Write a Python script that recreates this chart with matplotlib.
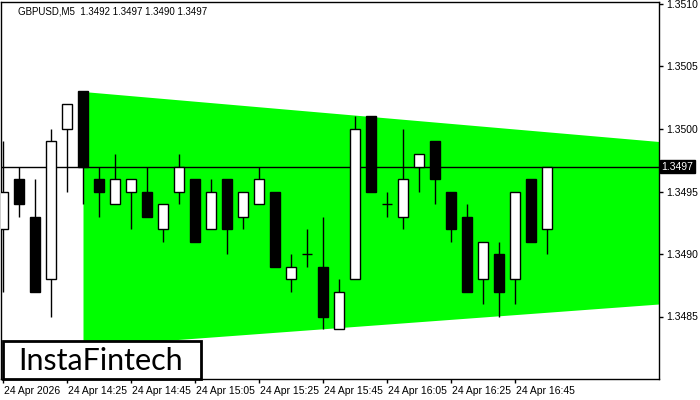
import matplotlib
matplotlib.use("Agg")
import matplotlib.pyplot as plt
from matplotlib.patches import Rectangle
import matplotlib.transforms as mtransforms

# GBPUSD M5 candles, 14:05 .. 16:55
opens = [1.3492, 1.3496, 1.3493, 1.3488, 1.3500, 1.3503, 1.3496, 1.3494, 1.3495, 1.3495,
         1.3492, 1.3495, 1.3496, 1.3492, 1.3496, 1.3493, 1.3494, 1.3495, 1.3488, 1.3490,
         1.3489, 1.3484, 1.3488, 1.3501, 1.3494, 1.3493, 1.3497, 1.3499, 1.3495, 1.3493,
         1.3488, 1.3490, 1.3488, 1.3496, 1.3492]
highs = [1.3499, 1.3497, 1.3496, 1.3500, 1.3502, 1.3503, 1.3497, 1.3498, 1.3496, 1.3497,
         1.3494, 1.3498, 1.3496, 1.3496, 1.3496, 1.3495, 1.3497, 1.3495, 1.3490, 1.3492,
         1.3493, 1.3488, 1.3501, 1.3501, 1.3495, 1.3500, 1.3498, 1.3499, 1.3495, 1.3494,
         1.3491, 1.3491, 1.3495, 1.3496, 1.3497]
lows = [1.3487, 1.3493, 1.3487, 1.3485, 1.3495, 1.3494, 1.3493, 1.3494, 1.3492, 1.3493,
        1.3491, 1.3494, 1.3491, 1.3492, 1.3490, 1.3492, 1.3494, 1.3489, 1.3487, 1.3489,
        1.3484, 1.3484, 1.3488, 1.3495, 1.3493, 1.3492, 1.3495, 1.3494, 1.3491, 1.3487,
        1.3486, 1.3485, 1.3486, 1.3491, 1.3490]
closes = [1.3495, 1.3494, 1.3487, 1.3499, 1.3502, 1.3497, 1.3495, 1.3496, 1.3496, 1.3493,
          1.3494, 1.3497, 1.3491, 1.3495, 1.3492, 1.3495, 1.3496, 1.3489, 1.3489, 1.3490,
          1.3485, 1.3487, 1.3500, 1.3495, 1.3494, 1.3496, 1.3498, 1.3496, 1.3492, 1.3487,
          1.3491, 1.3487, 1.3495, 1.3491, 1.3497]

# symmetrical triangle (bar index, upper, lower)
tri_x = [5, 41]
tri_upper = [1.35030, 1.34990]
tri_lower = [1.34826, 1.34860]

last_price = 1.3497
time_ticks = [0, 4, 8, 12, 16, 20, 24, 28, 32]
time_labels = ['24 Apr 2026', '24 Apr 14:25', '24 Apr 14:45', '24 Apr 15:05', '24 Apr 15:25',
               '24 Apr 15:45', '24 Apr 16:05', '24 Apr 16:25', '24 Apr 16:45']
price_ticks = [1.3485, 1.3490, 1.3495, 1.3500, 1.3505, 1.3510]

plt.rcParams['font.family'] = ['Liberation Sans', 'DejaVu Sans']

fig = plt.figure(figsize=(7, 4), dpi=100)
ax = fig.add_axes([1 / 700, 21 / 400, 658 / 700, 377 / 400])
ax.set_xlim(-0.125, 41.0)
ax.set_ylim(1.34800, 1.351016)

# triangle
ax.fill_between(tri_x, tri_lower, tri_upper, color='#00ff00', lw=0, zorder=1)

# current price line
ax.axhline(last_price, color='black', lw=1, zorder=2)

# candles
w = 0.64
for i in range(len(opens)):
    o, h, l, c = opens[i], highs[i], lows[i], closes[i]
    ax.vlines(i, l, h, color='black', lw=1, zorder=3)
    if o == c:
        ax.hlines(o, i - w / 2, i + w / 2, color='black', lw=1, zorder=4)
    else:
        fc = 'white' if c > o else 'black'
        ax.add_patch(Rectangle((i - w / 2, min(o, c)), w, abs(c - o),
                               facecolor=fc, edgecolor='black', lw=1, zorder=4))

# axes styling
for s in ax.spines.values():
    s.set_linewidth(1)
    s.set_color('black')
ax.yaxis.tick_right()
ax.set_yticks(price_ticks)
ax.set_yticklabels(['%.4f' % p for p in price_ticks])
ax.tick_params(axis='y', direction='out', length=3, width=1, pad=2, labelsize=7.5)
ax.set_xticks(time_ticks)
ax.set_xticklabels(time_labels, ha='left')
ax.tick_params(axis='x', direction='out', length=3, width=1, pad=2, labelsize=7.5)
offset = mtransforms.ScaledTranslation(1 / 100, 0, fig.dpi_scale_trans)
for lab in ax.get_xticklabels():
    lab.set_transform(lab.get_transform() + offset)

# last price label
trans = mtransforms.blended_transform_factory(ax.transAxes, ax.transData)
ax.text(1.004, last_price, '1.3497', transform=trans, ha='left', va='center',
        fontsize=7.5, color='white', zorder=10, clip_on=False,
        bbox=dict(boxstyle='square,pad=0.15', facecolor='black', edgecolor='black'))

# header
fig.text(18 / 700, 1 - 12 / 400, 'GBPUSD,M5  1.3492 1.3497 1.3490 1.3497',
         fontsize=7, va='center', ha='left', color='black')

# logo box
fig.patches.append(Rectangle((3 / 700, 21 / 400), 198 / 700, 38 / 400, transform=fig.transFigure,
                             facecolor='white', edgecolor='black', lw=2, zorder=20))
fig.text(101 / 700, (21 + 18) / 400, 'InstaFintech', family=['Lato', 'DejaVu Sans'],
         fontsize=22, ha='center', va='center', color='black', zorder=21)

plt.savefig('out.png', dpi=100)
